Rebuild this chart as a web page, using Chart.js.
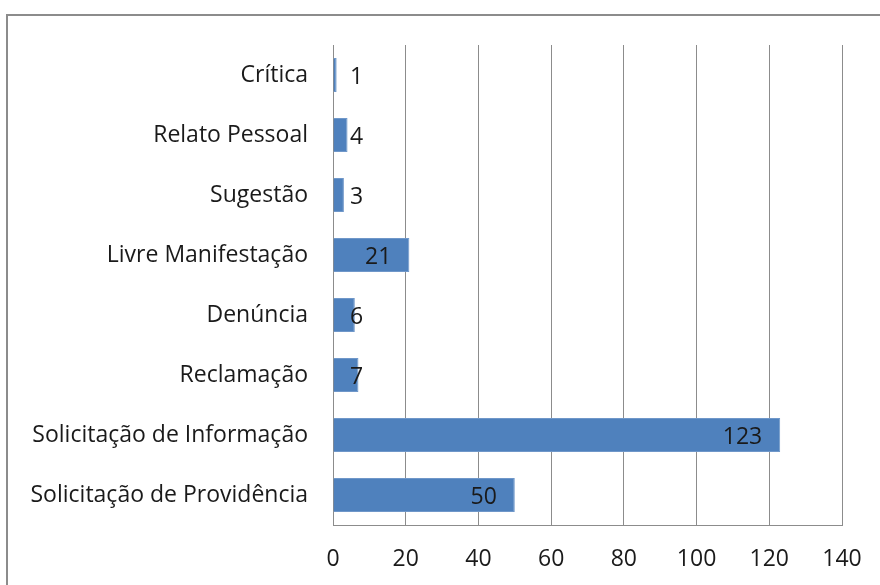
<!DOCTYPE html>
<html><head><meta charset="utf-8">
<script src="https://cdn.jsdelivr.net/npm/chart.js@4.4.0/dist/chart.umd.min.js"></script>
<style>
html,body{margin:0;padding:0;background:#fff;}
#wrap{position:relative;width:880px;height:585px;overflow:hidden;}
#frame{position:absolute;left:6px;top:14px;width:1000px;height:1000px;border-top:2px solid #8c8c8c;border-left:2px solid #8c8c8c;box-sizing:border-box;}
canvas{position:absolute;left:0;top:0;}
</style></head>
<body><div id="wrap"><div id="frame"></div><canvas id="c" width="880" height="585"></canvas></div>
<script>
const categories = ["Crítica","Relato Pessoal","Sugestão","Livre Manifestação","Denúncia","Reclamação","Solicitação de Informação","Solicitação de Providência"];
const values = [1,4,3,21,6,7,123,50];
const xTicks = [0,20,40,60,80,100,120,140];
const FONT = '"Open Sans", sans-serif';

const labelPlugin = {
  id:'vlabels',
  afterDatasetsDraw(chart){
    const ctx = chart.ctx;
    const meta = chart.getDatasetMeta(0);
    const x0 = chart.scales.x.getPixelForValue(0);
    ctx.save();
    ctx.font = '23px ' + FONT;
    ctx.fillStyle = '#1a1a1a';
    ctx.textBaseline = 'middle';
    ctx.textAlign = 'center';
    meta.data.forEach((bar,i)=>{
      const t = String(values[i]);
      const w = ctx.measureText(t).width;
      const cx = Math.max(bar.x - 18 - w/2, x0 + 17 + w/2);
      ctx.fillText(t, cx, bar.y + 2);
    });
    ctx.restore();
  }
};

new Chart(document.getElementById('c'), {
  type:'bar',
  data:{labels:categories, datasets:[{data:values, backgroundColor:'#4f81bd', borderColor:'#6f97c9', borderWidth:1, categoryPercentage:1, barPercentage:0.57}]},
  options:{
    indexAxis:'y', responsive:false, animation:false, devicePixelRatio:1,
    layout:{padding:{left:0,right:38,top:45,bottom:0}},
    plugins:{legend:{display:false}, tooltip:{enabled:false}},
    scales:{
      x:{min:0,max:140,
        afterBuildTicks(s){ s.ticks = xTicks.map(v=>({value:v})); },
        afterFit(s){ s.height = 60; s.paddingRight = 0; s.paddingLeft = 0; },
        grid:{color:'#8c8c8c', lineWidth:1, drawTicks:false},
        border:{display:true,color:'#8c8c8c'},
        ticks:{padding:21, maxRotation:0, minRotation:0, color:'#1a1a1a', font:{family:FONT, size:23}}
      },
      y:{
        afterFit(s){ s.width = 333; },
        grid:{display:false, drawTicks:false},
        border:{display:true,color:'#8c8c8c'},
        ticks:{padding:25, color:'#1a1a1a', font:{family:FONT, size:23}}
      }
    }
  },
  plugins:[labelPlugin]
});
</script></body></html>
